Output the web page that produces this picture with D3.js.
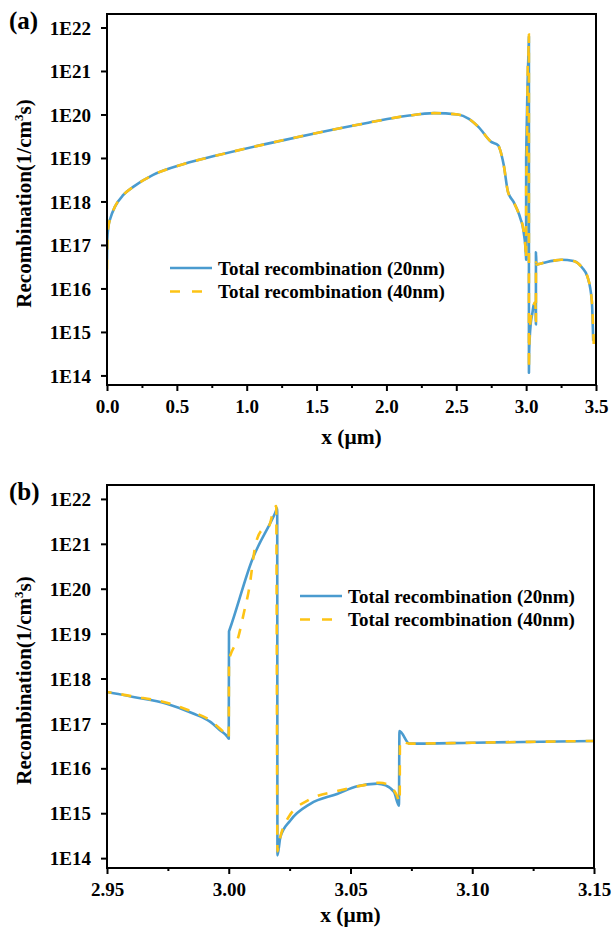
<!DOCTYPE html>
<html>
<head>
<meta charset="utf-8">
<script src="https://cdn.jsdelivr.net/npm/d3@7"></script>
<style>
  body { margin: 0; background: #fff; }
  svg { display: block; }
  text { font-family: "Liberation Serif", "Times New Roman", serif; font-weight: bold; fill: #000; }
</style>
</head>
<body>
<svg id="chart" width="614" height="930"></svg>
<script>
// x positions (µm) and log10 of total recombination rate (1/cm^3 s)
const x20 = [0, 0.002, 0.01, 0.025, 0.057, 0.117, 0.19, 0.33, 0.55, 0.79, 1.15, 1.51, 1.87, 2.15, 2.34, 2.51, 2.59, 2.66, 2.75, 2.80, 2.81, 2.84, 2.87, 2.91,
  2.95, 2.9608, 2.9745, 2.9854, 2.9923, 2.9964, 2.9995, 3.0, 3.0001, 3.0003, 3.0096, 3.0191, 3.0199, 3.02, 3.0212, 3.0253, 3.0335, 3.0445, 3.0527, 3.061, 3.0644, 3.0679, 3.0699, 3.0701, 3.0742,
  3.10, 3.15, 3.20, 3.25, 3.34, 3.40, 3.44, 3.47, 3.48]
const logR20 = [16.66, 17.11, 17.42, 17.62, 17.88, 18.15, 18.34, 18.61, 18.86, 19.06, 19.33, 19.58, 19.81, 19.97, 20.03, 20.00, 19.90, 19.71, 19.37, 19.29, 19.22, 18.83, 18.22, 17.99,
  17.70, 17.59, 17.44, 17.22, 17.04, 16.85, 16.70, 16.66, 19.05, 19.08, 20.64, 21.69, 21.79, 14.06, 14.47, 14.84, 15.21, 15.43, 15.60, 15.66, 15.62, 15.47, 15.17, 16.83, 16.55,
  16.57, 16.61, 16.64, 16.66, 16.63, 16.48, 16.26, 15.72, 14.80]

const x40 = [0, 0.002, 0.01, 0.025, 0.057, 0.117, 0.19, 0.33, 0.55, 0.79, 1.15, 1.51, 1.87, 2.15, 2.34, 2.51, 2.59, 2.66, 2.75, 2.80, 2.81, 2.84, 2.87, 2.91,
  2.95, 2.9608, 2.9745, 2.9854, 2.9923, 2.9964, 2.9995, 3.0, 3.0001, 3.0003, 3.004, 3.0062, 3.0083, 3.011, 3.0137, 3.0164, 3.0185, 3.0195, 3.02, 3.0205, 3.025, 3.033, 3.045, 3.055, 3.062, 3.066, 3.069, 3.0702, 3.0703, 3.0742,
  3.10, 3.15, 3.20, 3.25, 3.34, 3.40, 3.44, 3.47, 3.485]
const logR40 = [16.43, 16.95, 17.42, 17.62, 17.88, 18.15, 18.34, 18.61, 18.86, 19.06, 19.33, 19.58, 19.81, 19.97, 20.03, 20.00, 19.90, 19.71, 19.37, 19.29, 19.22, 18.83, 18.22, 17.99,
  17.70, 17.60, 17.46, 17.25, 17.07, 16.88, 16.72, 16.68, 18.42, 18.46, 18.94, 19.46, 19.98, 20.98, 21.31, 21.38, 21.76, 21.84, 14.15, 14.30, 14.95, 15.30, 15.50, 15.62, 15.68, 15.62, 15.40, 15.25, 16.60, 16.55,
  16.57, 16.61, 16.64, 16.66, 16.63, 16.48, 16.26, 15.72, 14.62]

const seriesNames = ["Total recombination (20nm)", "Total recombination (40nm)"]
const yTickExps = [14, 15, 16, 17, 18, 19, 20, 21, 22]
const xTicksA = [0, 0.5, 1.0, 1.5, 2.0, 2.5, 3.0, 3.5]
const xTicksB = [2.95, 3.00, 3.05, 3.10, 3.15]

const blue = "#4a9bcf"
const yellow = "#fdc315"

const svg = d3.select("#chart")

const data20 = x20.map((x, i) => ({x: x, y: Math.pow(10, logR20[i])}))
const data40 = x40.map((x, i) => ({x: x, y: Math.pow(10, logR40[i])}))

function drawPanel(p) {
  const g = svg.append("g")
  const x = d3.scaleLinear().domain(p.xDomain).range([p.left, p.right])
  const y = d3.scaleLog().domain([Math.pow(10, 13.78), Math.pow(10, 22.31)]).range([p.bottom, p.top])

  const clipId = "clip" + p.id
  svg.append("clipPath").attr("id", clipId)
    .append("rect").attr("x", p.left).attr("y", p.top)
    .attr("width", p.right - p.left).attr("height", p.bottom - p.top)

  const line = d3.line().x(d => x(d.x)).y(d => y(d.y)).curve(d3.curveMonotoneX)
  const plot = g.append("g").attr("clip-path", "url(#" + clipId + ")")
  plot.append("path").datum(data20)
    .attr("d", line).attr("fill", "none").attr("stroke", blue)
    .attr("stroke-width", 2.6).attr("stroke-linejoin", "round")
  plot.append("path").datum(data40)
    .attr("d", line).attr("fill", "none").attr("stroke", yellow)
    .attr("stroke-width", 2.6).attr("stroke-dasharray", "10,10")

  // frame
  g.append("rect").attr("x", p.left).attr("y", p.top)
    .attr("width", p.right - p.left).attr("height", p.bottom - p.top)
    .attr("fill", "none").attr("stroke", "#000").attr("stroke-width", 2)

  // y axis
  const yAxis = g.append("g").attr("transform", `translate(${p.left},0)`)
    .call(d3.axisLeft(y).tickValues(yTickExps.map(e => Math.pow(10, e)))
      .tickFormat(d => "1E" + Math.round(Math.log10(d))).tickSize(6).tickSizeOuter(0).tickPadding(10))
  yAxis.select(".domain").remove()
  yAxis.selectAll("line").attr("stroke-width", 2)
  yAxis.selectAll("text").style("font-size", "19px").attr("dy", "0.35em")

  // x axis major + minor
  const xAxis = g.append("g").attr("transform", `translate(0,${p.bottom})`)
    .call(d3.axisBottom(x).tickValues(p.xTicks).tickFormat(d3.format(p.fmt))
      .tickSize(6).tickSizeOuter(0).tickPadding(9))
  xAxis.select(".domain").remove()
  xAxis.selectAll("line").attr("stroke-width", 2)
  xAxis.selectAll("text").style("font-size", "19px")

  const minors = p.xTicks.slice(0, -1).map((t, i) => (t + p.xTicks[i + 1]) / 2)
  const xMinor = g.append("g").attr("transform", `translate(0,${p.bottom})`)
    .call(d3.axisBottom(x).tickValues(minors).tickFormat("").tickSize(3).tickSizeOuter(0))
  xMinor.select(".domain").remove()
  xMinor.selectAll("line").attr("stroke-width", 2)

  // axis titles
  g.append("text").attr("x", (p.left + p.right) / 2).attr("y", p.xTitleY)
    .attr("text-anchor", "middle").style("font-size", "21.5px").text("x (μm)")
  const yt = g.append("text")
    .attr("transform", `translate(${p.yTitleX},${(p.top + p.bottom) / 2 + 4}) rotate(-90)`)
    .attr("text-anchor", "middle").style("font-size", "21px")
  yt.append("tspan").text("Recombination(1/cm")
  yt.append("tspan").attr("dy", -8).style("font-size", "13px").text("3")
  yt.append("tspan").attr("dy", 8).text("s)")

  // panel label
  g.append("text").attr("x", 9).attr("y", p.labelY).style("font-size", "25px").text(p.label)

  // legend
  const leg = g.append("g")
  seriesNames.forEach((name, i) => {
    const ly = p.legY + i * 23.5
    leg.append("line").attr("x1", p.legX).attr("x2", p.legX + 42).attr("y1", ly).attr("y2", ly)
      .attr("stroke", i === 0 ? blue : yellow).attr("stroke-width", 2.6)
      .attr("stroke-dasharray", i === 0 ? null : "10,12")
    leg.append("text").attr("x", p.legX + 48).attr("y", ly).attr("dy", "0.35em")
      .style("font-size", "19px").text(name)
  })
}

drawPanel({id: "a", left: 107, right: 596, top: 14, bottom: 385, xDomain: [0, 3.5], xTicks: xTicksA, fmt: ".1f",
  xTitleY: 444, yTitleX: 31, label: "(a)", labelY: 29, legX: 170, legY: 268})
drawPanel({id: "b", left: 107, right: 594, top: 485, bottom: 868, xDomain: [2.95, 3.15], xTicks: xTicksB, fmt: ".2f",
  xTitleY: 922, yTitleX: 31, label: "(b)", labelY: 500, legX: 300, legY: 596})
</script>
</body>
</html>
